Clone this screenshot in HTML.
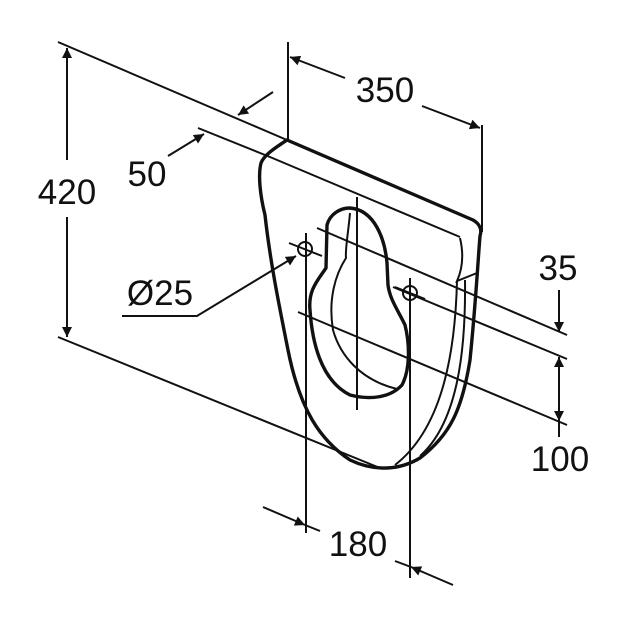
<!DOCTYPE html>
<html><head><style>
html,body{margin:0;padding:0;background:#fff;}
svg{display:block;}
text{font-family:"Liberation Sans",sans-serif;font-size:35px;fill:#111;}
</style></head><body>
<svg width="640" height="640" viewBox="0 0 640 640" xmlns="http://www.w3.org/2000/svg">
<defs>
<marker id="a" viewBox="0 0 10 10" refX="10" refY="5" markerWidth="16" markerHeight="10" markerUnits="userSpaceOnUse" orient="auto">
<path d="M0,0 L10,5 L0,10 z" fill="#111"/></marker>
</defs>
<g stroke="#111" fill="none" stroke-width="2">
<polyline points="58,42 287,140"/>
<polyline points="198,128 270,157 460,237"/>
<line x1="58" y1="337" x2="380" y2="468"/>
<line x1="67" y1="160" x2="67" y2="48" marker-end="url(#a)"/>
<line x1="67" y1="217" x2="67" y2="337" marker-end="url(#a)"/>
<line x1="168" y1="156" x2="204" y2="134" marker-end="url(#a)"/>
<line x1="273" y1="92" x2="238" y2="115" marker-end="url(#a)"/>
<line x1="288" y1="42" x2="288" y2="140"/>
<line x1="482" y1="125" x2="482" y2="232"/>
<line x1="345" y1="78" x2="290" y2="57" marker-end="url(#a)"/>
<line x1="422" y1="106" x2="480" y2="128" marker-end="url(#a)"/>
<line x1="317" y1="228" x2="567" y2="335"/>
<line x1="289" y1="243" x2="322" y2="256"/>
<line x1="393" y1="287" x2="567" y2="359"/>
<line x1="298" y1="312" x2="567" y2="425"/>
<line x1="559" y1="290" x2="559" y2="332" marker-end="url(#a)"/>
<line x1="559" y1="385" x2="559" y2="357" marker-end="url(#a)"/>
<line x1="559" y1="385" x2="559" y2="421" marker-end="url(#a)"/>
<line x1="559" y1="421" x2="559" y2="437"/>
<line x1="306" y1="233" x2="306" y2="533"/>
<line x1="410" y1="278" x2="410" y2="578"/>
<line x1="357" y1="197" x2="357" y2="410"/>
<circle cx="305" cy="249" r="7"/>
<circle cx="410" cy="293" r="7"/>
<line x1="395" y1="287" x2="425" y2="299"/>
<line x1="263" y1="507" x2="305" y2="525" marker-end="url(#a)"/>
<line x1="305" y1="525" x2="320" y2="531"/>
<line x1="453" y1="585" x2="411" y2="567" marker-end="url(#a)"/>
<line x1="411" y1="567" x2="395" y2="561"/>
<polyline points="122,316 197,316 296,256" marker-end="url(#a)"/>
<path d="M350,213 C348,235 345,250 346,258 C335,275 328,300 333,330 C340,355 360,380 397,389"/>
<path d="M460,238 C464,255 462,270 457,281 L477,273"/>
<path d="M457,281 C455,360 440,430 395,465"/>
<path d="M465,280 C466,360 455,425 420,456"/>
</g>
<g stroke="#111" fill="none" stroke-width="3.4" stroke-linejoin="round">
<path d="M287,140 L473,220 C480,224 482,230 480,236 C478,260 476,300 470,360 C462,410 450,435 420,458 C400,470 375,472 350,460 C320,440 300,410 288,350 C278,300 270,260 265,215 C260,195 258,175 261,163 C264,155 275,148 287,140 Z"/>
<path d="M350,208 C340,208 330,214 327,225 L326,268 C318,280 308,290 310,310 C312,340 320,380 350,395 C370,400 390,398 402,385 C410,370 410,345 405,325 C398,310 390,300 388,285 L387,263 C385,240 375,210 350,208 Z"/>
</g>
<text x="385" y="102" text-anchor="middle">350</text>
<text x="147" y="186" text-anchor="middle">50</text>
<text x="67" y="204" text-anchor="middle">420</text>
<text x="160" y="305" text-anchor="middle">Ø25</text>
<text x="558" y="280" text-anchor="middle">35</text>
<text x="560" y="471" text-anchor="middle">100</text>
<text x="358" y="556" text-anchor="middle">180</text>
</svg>
</body></html>
